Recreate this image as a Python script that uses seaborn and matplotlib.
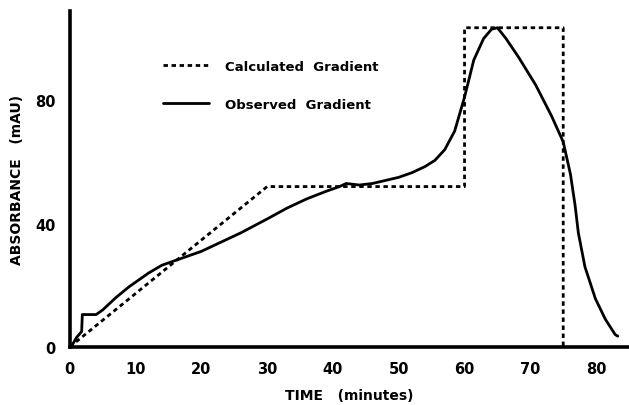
import matplotlib
matplotlib.use("Agg")
import matplotlib.pyplot as plt
import seaborn as sns
import pandas as pd

# Calculated gradient (dotted)
calc_time = [0, 30, 60, 60, 75, 75]
calc_abs = [0, 52, 52, 103.5, 103.5, 0]

# Observed gradient (solid)
obs_time = [0.2, 1.0, 1.8, 1.9, 4.0, 5, 7, 9, 10, 12, 14, 16, 18, 20, 23, 26, 30, 33,
            36, 39, 41, 42, 44, 46, 48, 50, 52, 54, 55.5, 57, 58.5, 60, 61.4, 62.9,
            64.1, 65, 66.3, 68.2, 70.8, 73.2, 75, 76.1, 76.8, 77.3, 78.3, 79.9, 81.4,
            82.9, 83.3]
obs_abs = [0, 3, 5, 10.5, 10.5, 12, 16, 19.5, 21, 24, 26.5, 28, 29.5, 31, 34, 37, 41.5,
           45, 48, 50.5, 52, 53, 52.5, 53, 54, 55, 56.5, 58.5, 60.5, 64, 70, 81, 93,
           100, 103, 103.5, 100, 94, 85, 75, 66.5, 56, 46, 37, 26, 15.6, 9, 4, 3.5]

xticks = [0, 10, 20, 30, 40, 50, 60, 70, 80]
yticks = [0, 40, 80]

sns.set_style("white")
plt.rcParams['font.family'] = ['DejaVu Sans']
plt.rcParams['text.color'] = 'black'
plt.rcParams['axes.labelcolor'] = 'black'
plt.rcParams['xtick.color'] = 'black'
plt.rcParams['ytick.color'] = 'black'

fig = plt.figure(figsize=(6.29, 4.06), dpi=100)
ax = fig.add_axes([0.111, 0.143, 0.889, 0.828])

calc_df = pd.DataFrame({"t": calc_time, "a": calc_abs})
obs_df = pd.DataFrame({"t": obs_time, "a": obs_abs})

sns.lineplot(data=calc_df, x="t", y="a", sort=False, estimator=None, ax=ax,
             color="black", linewidth=2.0, linestyle=(0, (1.6, 1.3)),
             label="Calculated  Gradient")
sns.lineplot(data=obs_df, x="t", y="a", sort=False, estimator=None, ax=ax,
             color="black", linewidth=2.0, label="Observed  Gradient")

ax.set_xlim(0, 85)
ax.set_ylim(0, 109)
ax.set_xticks(xticks)
ax.set_yticks(yticks)
ax.set_xticklabels([str(v) for v in xticks], fontsize=10.5, fontweight="bold", color="black")
ax.set_yticklabels([str(v) for v in yticks], fontsize=10.5, fontweight="bold", color="black")
ax.tick_params(axis="both", direction="out", length=7, width=2.2, color="black", pad=3)

for side in ["top", "right"]:
    ax.spines[side].set_visible(False)
for side in ["left", "bottom"]:
    ax.spines[side].set_linewidth(2.6)
    ax.spines[side].set_color("black")

ax.set_xlabel("TIME   (minutes)", fontsize=10, fontweight="bold", labelpad=9, color="black")
ax.set_ylabel("ABSORBANCE   (mAU)", fontsize=10, fontweight="bold", labelpad=8, color="black")

leg = ax.legend(loc="upper left", bbox_to_anchor=(0.145, 0.89), frameon=False,
                handlelength=3.5, handletextpad=1.2, labelspacing=1.9,
                prop={"size": 9.5, "weight": "bold"})
for t in leg.get_texts():
    t.set_color("black")

fig.savefig("out.png", dpi=100)
